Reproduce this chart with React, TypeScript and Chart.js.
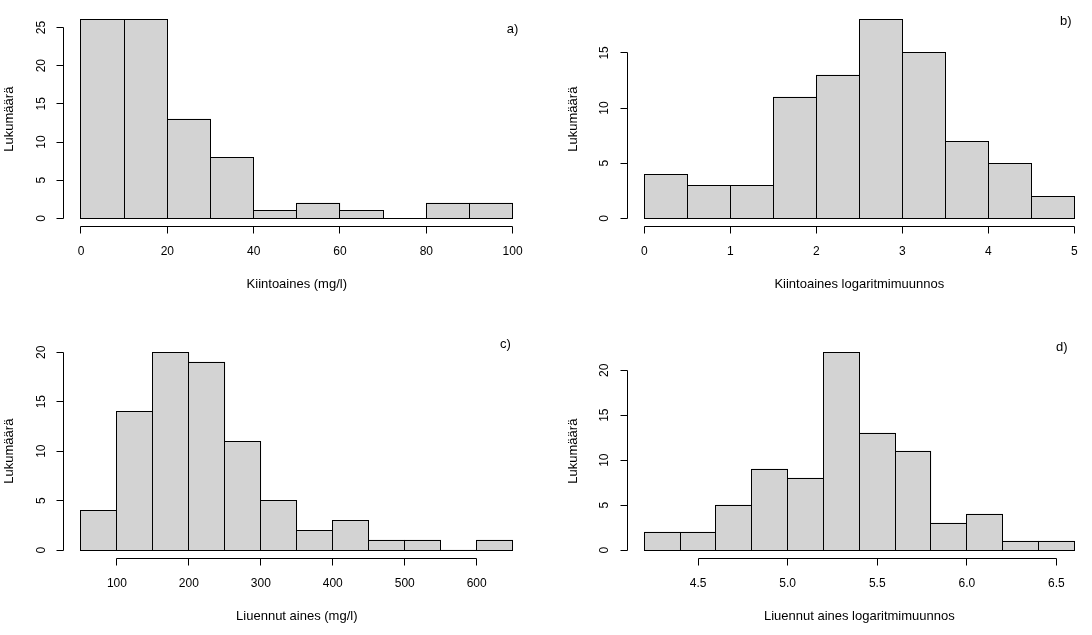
import React, { useEffect, useRef } from "react";
import { Chart, registerables } from "chart.js";

Chart.register(...registerables);

const W = 1092;
const H = 635;

// ---- Panel a) Kiintoaines (mg/l)
const aBreaks = [0, 10, 20, 30, 40, 50, 60, 70, 80, 90, 100];
const aCounts = [26, 26, 13, 8, 1, 2, 1, 0, 2, 2];
const aXTicks = [0, 20, 40, 60, 80, 100];
const aYTicks = [0, 5, 10, 15, 20, 25];
const aXTitle = "Kiintoaines (mg/l)";
const aTag = "a)";
const aTagPos = [100, 24.8];

// ---- Panel b) Kiintoaines logaritmimuunnos
const bBreaks = [0, 0.5, 1, 1.5, 2, 2.5, 3, 3.5, 4, 4.5, 5];
const bCounts = [4, 3, 3, 11, 13, 18, 15, 7, 5, 2];
const bXTicks = [0, 1, 2, 3, 4, 5];
const bYTicks = [0, 5, 10, 15];
const bXTitle = "Kiintoaines logaritmimuunnos";
const bTag = "b)";
const bTagPos = [4.9, 17.9];

// ---- Panel c) Liuennut aines (mg/l)
const cBreaks = [50, 100, 150, 200, 250, 300, 350, 400, 450, 500, 550, 600, 650];
const cCounts = [4, 14, 20, 19, 11, 5, 2, 3, 1, 1, 0, 1];
const cXTicks = [100, 200, 300, 400, 500, 600];
const cYTicks = [0, 5, 10, 15, 20];
const cXTitle = "Liuennut aines (mg/l)";
const cTag = "c)";
const cTagPos = [640, 20.8];

// ---- Panel d) Liuennut aines logaritmimuunnos
const dBreaks = [4.2, 4.4, 4.6, 4.8, 5.0, 5.2, 5.4, 5.6, 5.8, 6.0, 6.2, 6.4, 6.6];
const dCounts = [2, 2, 5, 9, 8, 22, 13, 11, 3, 4, 1, 1];
const dXTicks = [4.5, 5.0, 5.5, 6.0, 6.5];
const dYTicks = [0, 5, 10, 15, 20];
const dXTitle = "Liuennut aines logaritmimuunnos";
const dTag = "d)";
const dTagPos = [6.53, 22.5];

const yTitle = "Lukumäärä";

const TICK_FONT = '12px "Liberation Sans", Arial, Helvetica, sans-serif';
const TITLE_FONT = '13px "Liberation Sans", Arial, Helvetica, sans-serif';
const snap = (v: number) => Math.round(v - 0.5) + 0.5;

const rPlugin = {
  id: "rAxes",
  afterDatasetsDraw(chart: any) {
    const ctx = chart.ctx;
    const meta = chart.getDatasetMeta(0);
    ctx.save();
    ctx.strokeStyle = "#000";
    ctx.lineWidth = 1;
    meta.data.forEach((bar: any) => {
      const { x, y, base, width } = bar.getProps(["x", "y", "base", "width"], true);
      const l = snap(x - width / 2);
      const r = snap(x + width / 2);
      const t = snap(Math.min(y, base));
      const b = snap(Math.max(y, base));
      ctx.strokeRect(l, t, r - l, b - t);
    });
    ctx.restore();
  },
  afterDraw(chart: any, _args: any, opts: any) {
    const ctx = chart.ctx;
    const xs = chart.scales.x;
    const ys = chart.scales.y;
    const area = chart.chartArea;
    ctx.save();
    ctx.strokeStyle = "#000";
    ctx.fillStyle = "#000";
    ctx.lineWidth = 1;
    ctx.font = TICK_FONT;

    // x axis
    const xt: number[] = opts.xTicks;
    const yb = snap(area.bottom);
    ctx.beginPath();
    ctx.moveTo(snap(xs.getPixelForValue(xt[0])), yb);
    ctx.lineTo(snap(xs.getPixelForValue(xt[xt.length - 1])), yb);
    xt.forEach((v) => {
      const px = snap(xs.getPixelForValue(v));
      ctx.moveTo(px, yb);
      ctx.lineTo(px, yb + 7);
    });
    ctx.stroke();
    ctx.textAlign = "center";
    ctx.textBaseline = "middle";
    xt.forEach((v) => {
      ctx.fillText(v.toFixed(opts.dec), xs.getPixelForValue(v), area.bottom + 25.3);
    });

    // y axis
    const yt: number[] = opts.yTicks;
    const xl = snap(area.left);
    ctx.beginPath();
    ctx.moveTo(xl, snap(ys.getPixelForValue(yt[0])));
    ctx.lineTo(xl, snap(ys.getPixelForValue(yt[yt.length - 1])));
    yt.forEach((v) => {
      const py = snap(ys.getPixelForValue(v));
      ctx.moveTo(xl, py);
      ctx.lineTo(xl - 7, py);
    });
    ctx.stroke();
    yt.forEach((v) => {
      ctx.save();
      ctx.translate(area.left - 22.5, ys.getPixelForValue(v));
      ctx.rotate(-Math.PI / 2);
      ctx.fillText(String(v), 0, 0);
      ctx.restore();
    });

    // titles
    ctx.font = TITLE_FONT;
    ctx.fillText(opts.xTitle, (area.left + area.right) / 2, area.bottom + 58.5);
    ctx.save();
    ctx.translate(area.left - 54, (area.top + area.bottom) / 2);
    ctx.rotate(-Math.PI / 2);
    ctx.fillText(opts.yTitle, 0, 0);
    ctx.restore();

    // panel tag
    ctx.fillText(opts.tag, xs.getPixelForValue(opts.tagPos[0]), ys.getPixelForValue(opts.tagPos[1]));
    ctx.restore();
  },
};

type Panel = {
  breaks: number[];
  counts: number[];
  xTicks: number[];
  yTicks: number[];
  xTitle: string;
  tag: string;
  tagPos: number[];
  dec: number;
  box: { l: number; r: number; t: number; b: number };
};

const panels: Panel[] = [
  { breaks: aBreaks, counts: aCounts, xTicks: aXTicks, yTicks: aYTicks, xTitle: aXTitle, tag: aTag, tagPos: aTagPos, dec: 0, box: { l: 63.7, r: 529.9, t: 11.9, b: 226.4 } },
  { breaks: bBreaks, counts: bCounts, xTicks: bXTicks, yTicks: bYTicks, xTitle: bXTitle, tag: bTag, tagPos: bTagPos, dec: 0, box: { l: 627.1, r: 1091.5, t: 11.9, b: 226.4 } },
  { breaks: cBreaks, counts: cCounts, xTicks: cXTicks, yTicks: cYTicks, xTitle: cXTitle, tag: cTag, tagPos: cTagPos, dec: 0, box: { l: 63.7, r: 529.9, t: 344.3, b: 558.0 } },
  { breaks: dBreaks, counts: dCounts, xTicks: dXTicks, yTicks: dYTicks, xTitle: dXTitle, tag: dTag, tagPos: dTagPos, dec: 1, box: { l: 627.1, r: 1091.5, t: 344.3, b: 558.0 } },
];

function makeConfig(p: Panel): any {
  const centers = p.counts.map((_, i) => (p.breaks[i] + p.breaks[i + 1]) / 2);
  const lo = p.breaks[0];
  const hi = p.breaks[p.breaks.length - 1];
  const ymax = Math.max(...p.counts);
  const xpad = (hi - lo) * 0.04;
  const ypad = ymax * 0.04;
  return {
    type: "bar",
    data: {
      datasets: [
        {
          data: centers.map((c, i) => ({ x: c, y: p.counts[i] })),
          backgroundColor: "#D3D3D3",
          borderWidth: 0,
          barPercentage: 1,
          categoryPercentage: 1,
        },
      ],
    },
    options: {
      responsive: false,
      animation: false,
      events: [],
      layout: {
        padding: { left: p.box.l, right: W - p.box.r, top: p.box.t, bottom: H - p.box.b },
      },
      scales: {
        x: {
          type: "linear",
          min: lo - xpad,
          max: hi + xpad,
          offset: false,
          display: false,
          afterBuildTicks: (scale: any) => {
            scale.ticks = [];
          },
        },
        y: {
          type: "linear",
          min: -ypad,
          max: ymax + ypad,
          display: false,
        },
      },
      plugins: {
        legend: { display: false },
        tooltip: { enabled: false },
        rAxes: {
          xTicks: p.xTicks,
          yTicks: p.yTicks,
          xTitle: p.xTitle,
          yTitle: yTitle,
          tag: p.tag,
          tagPos: p.tagPos,
          dec: p.dec,
        },
      },
    },
    plugins: [rPlugin],
  };
}

function PanelChart({ panel }: { panel: Panel }) {
  const ref = useRef<HTMLCanvasElement | null>(null);
  useEffect(() => {
    if (!ref.current) return;
    const chart = new Chart(ref.current, makeConfig(panel));
    return () => chart.destroy();
  }, [panel]);
  return (
    <canvas
      ref={ref}
      width={W}
      height={H}
      style={{ position: "absolute", left: 0, top: 0, width: W, height: H, display: "block" }}
    />
  );
}

export default function App() {
  return (
    <div style={{ position: "absolute", left: 0, top: 0, width: W, height: H, background: "#fff", overflow: "hidden" }}>
      {panels.map((p, i) => (
        <PanelChart key={i} panel={p} />
      ))}
    </div>
  );
}
